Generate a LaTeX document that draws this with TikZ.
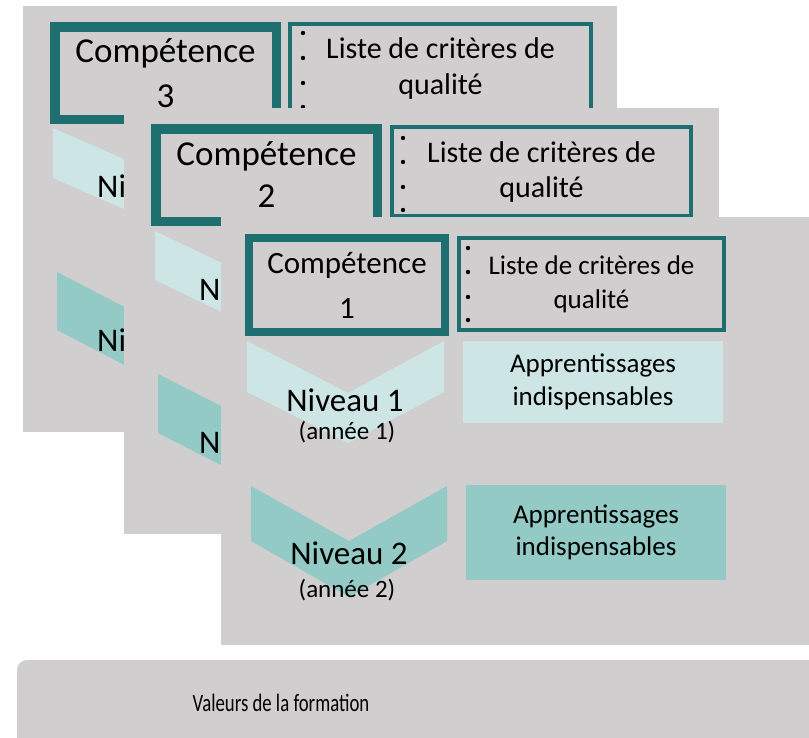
\documentclass[tikz,border=0pt]{standalone}
\usepackage{graphicx}
\usepackage{fontspec}
\setmainfont{Carlito}
\definecolor{cardgray}{HTML}{D0CECE}
\definecolor{darkteal}{HTML}{1F6F70}
\definecolor{lightteal}{HTML}{CDE6E5}
\definecolor{midteal}{HTML}{93CAC5}
\tikzset{
  card/.style={fill=cardgray, draw=none},
  compbox/.style={draw=darkteal, inner sep=0pt, align=center},
  listebox/.style={draw=darkteal, line width=4pt, inner sep=0pt, align=center},
  appbox/.style={draw=none, inner sep=0pt, align=center},
  bul/.style={fill=black},
  txt/.style={inner sep=0pt, align=center},
}
\begin{document}
\begin{tikzpicture}[x=1pt,y=-1pt]
\useasboundingbox (0,0) rectangle (809,737);
\clip (0,0) rectangle (809,737);

% ---------- card 3 ----------
\fill[card] (23,6) rectangle (617,432);
\node[compbox, line width=9.5pt, minimum width=221.5pt, minimum height=92.5pt,
      font=\fontsize{35}{45}\selectfont] (comp3) at (165.5,73) {Compétence\\3};
\node[listebox, minimum width=301pt, minimum height=89pt,
      font=\fontsize{30}{36}\selectfont] (liste3) at (440.5,68.5) {Liste de critères de\\qualité};
\foreach \yy in {33,58,83,107} \fill[bul] (303,\yy) circle (2.2pt);
\fill[lightteal] (53,128) -- (165,177) -- (277,128) -- (277,178) -- (165,227) -- (53,178) -- cycle;
\fill[midteal] (57,272) -- (167,329) -- (278,272) -- (278,330) -- (167,387) -- (57,330) -- cycle;
\node[txt, anchor=base west, font=\fontsize{33}{38}\selectfont] (niv31) at (97,197) {Ni};
\node[txt, anchor=base west, font=\fontsize{33}{38}\selectfont] (niv32) at (97,351) {Ni};

% ---------- card 2 ----------
\fill[card] (124,108) rectangle (719,534);
\node[compbox, line width=9.5pt, minimum width=221.5pt, minimum height=92.5pt,
      font=\fontsize{35}{42}\selectfont] (comp2) at (266.5,175) {Compétence\\2};
\node[listebox, minimum width=299pt, minimum height=89pt,
      font=\fontsize{30}{35}\selectfont] (liste2) at (541.5,171.5) {Liste de critères de\\qualité};
\foreach \yy in {138,162,187,210} \fill[bul] (403,\yy) circle (2.2pt);
\fill[lightteal] (155,231) -- (265.5,284) -- (376,231) -- (376,280) -- (265.5,333) -- (155,280) -- cycle;
\fill[midteal] (158,374) -- (268,430) -- (379,374) -- (379,433) -- (268,489) -- (158,433) -- cycle;
\node[txt, anchor=base west, font=\fontsize{33}{38}\selectfont] (niv21) at (199,300) {N};
\node[txt, anchor=base west, font=\fontsize{33}{38}\selectfont] (niv22) at (199,453) {N};

% ---------- card 1 ----------
\fill[card] (221,217) rectangle (820,645);
\node[compbox, line width=8.5pt, minimum width=196pt, minimum height=94pt,
      font=\fontsize{31}{45}\selectfont] (comp1) at (347,285) {Compétence\\1};
\node[listebox, minimum width=265pt, minimum height=92pt,
      font=\fontsize{27}{34}\selectfont] (liste1) at (591.5,284) {Liste de critères de\\qualité};
\foreach \yy in {248,272,297,320} \fill[bul] (468,\yy) circle (2.2pt);
\fill[lightteal] (247,341) -- (348,393) -- (444,341) -- (444,392) -- (348,443) -- (247,392) -- cycle;
\fill[midteal] (251,486) -- (349,541) -- (447,486) -- (447,541) -- (349,597) -- (251,541) -- cycle;
\node[txt, font=\fontsize{33}{38}\selectfont] (niv11) at (345,400) {Niveau 1};
\node[txt, font=\fontsize{25}{30}\selectfont] (an11) at (347,432) {(année 1)};
\node[txt, font=\fontsize{33}{38}\selectfont] (niv12) at (349,553) {Niveau 2};
\node[txt, font=\fontsize{25}{30}\selectfont] (an12) at (347,590) {(année 2)};
\node[appbox, fill=lightteal, minimum width=260pt, minimum height=82pt,
      font=\fontsize{27}{33}\selectfont] (app1) at (593,382) {Apprentissages\\indispensables};
\node[appbox, fill=midteal, minimum width=260pt, minimum height=95pt,
      font=\fontsize{27}{32}\selectfont] (app2) at (596,532.5) {Apprentissages\\indispensables};

% ---------- bottom bar ----------
\fill[card, rounded corners=10pt] (17,660) rectangle (840,770);
\node[txt, font=\fontsize{25}{30}\selectfont] (valeurs) at (281,703) {\scalebox{0.75}[1]{Valeurs de la formation}};
\end{tikzpicture}
\end{document}
